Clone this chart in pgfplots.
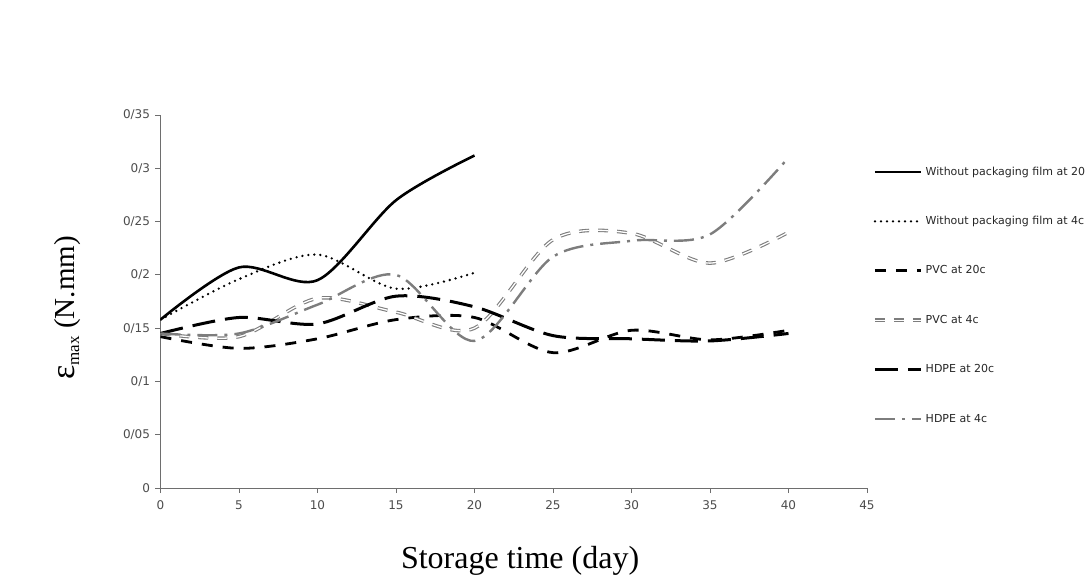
\documentclass[border=0pt]{standalone}
\usepackage{fontspec}
\setmainfont{Liberation Serif}
\newfontfamily\tickfont{DejaVu Sans}
\usepackage{pgfplots}
\usepackage{pgfplotstable}
\pgfplotsset{compat=1.18}

\definecolor{axisgray}{RGB}{110,110,110}
\definecolor{linegray}{RGB}{125,125,125}

% storage time (day) vs maximum strain, one table per treatment
\pgfplotstableread{
day val
0  0.158
5  0.207
10 0.195
15 0.270
20 0.312
}\nowarmA
\pgfplotstableread{
day val
0  0.158
5  0.196
10 0.219
15 0.187
20 0.202
}\nowarmB
\pgfplotstableread{
day val
0  0.142
5  0.131
10 0.140
15 0.158
20 0.160
25 0.127
30 0.148
35 0.139
40 0.148
}\pvcA
\pgfplotstableread{
day val
0  0.145
5  0.142
10 0.178
15 0.165
20 0.150
25 0.233
30 0.239
35 0.211
40 0.240
}\pvcB
\pgfplotstableread{
day val
0  0.145
5  0.160
10 0.154
15 0.180
20 0.170
25 0.143
30 0.140
35 0.138
40 0.145
}\hdpeA
\pgfplotstableread{
day val
0  0.145
5  0.145
10 0.172
15 0.200
20 0.138
25 0.217
30 0.232
35 0.238
40 0.310
}\hdpeB

\begin{document}
\begin{tikzpicture}
\begin{axis}[
  scale only axis,
  width=706.5pt, height=373pt,
  xmin=0, xmax=45, ymin=0, ymax=0.35,
  axis lines=left,
  axis line style={-, draw=axisgray, line width=0.8pt},
  tick align=outside,
  major tick length=5pt,
  tick style={draw=axisgray, line width=0.8pt},
  xtick={0,5,10,15,20,25,30,35,40,45},
  xticklabels={0,5,10,15,20,25,30,35,40,45},
  ytick={0,0.05,0.1,0.15,0.2,0.25,0.3,0.35},
  yticklabels={0,0/05,0/1,0/15,0/2,0/25,0/3,0/35},
  ticklabel style={font=\tickfont\fontsize{12}{13}\selectfont, text=black!70},
  xticklabel style={yshift=-4pt},
  yticklabel style={xshift=-2pt},
  xlabel={Storage time (day)},
  xlabel style={font=\fontsize{32}{34}\selectfont, at={(axis description cs:0.509,-0.217)}, anchor=base},
  ylabel={{\fontsize{34}{34}\selectfont ε}\raisebox{-5pt}{\fontsize{17}{17}\selectfont max} (N.mm)},
  ylabel style={font=\fontsize{29}{30}\selectfont, at={(axis description cs:-0.132,0.483)}, anchor=center},
  legend image code/.code={\draw[#1] (0pt,0pt) -- (46pt,0pt);},
  legend cell align=left,
  legend style={draw=none, fill=none, at={(1.0043,0.516)}, anchor=west,
    font=\tickfont\fontsize{11}{12}\selectfont, text=black!85,
    row sep=38.4pt, column sep=3pt,
    nodes={inner sep=0pt, text height=8.5pt, text depth=2.5pt}},
]
\addplot[black, line width=2.6pt, smooth] table[x=day, y=val] {\nowarmA};
\addlegendentry{Without packaging film at 20c}
\addplot[black, line width=2.6pt, smooth, line cap=round, dash pattern=on 0pt off 6pt] table[x=day, y=val] {\nowarmB};
\addlegendentry{Without packaging film at 4c}
\addplot[black, line width=2.8pt, smooth, dash pattern=on 11pt off 10pt] table[x=day, y=val] {\pvcA};
\addlegendentry{PVC at 20c}
\addplot[linegray, line width=1.1pt, double=white, double distance=1.3pt, smooth, dash pattern=on 10pt off 9pt] table[x=day, y=val] {\pvcB};
\addlegendentry{PVC at 4c}
\addplot[black, line width=3pt, smooth, dash pattern=on 23pt off 10pt] table[x=day, y=val] {\hdpeA};
\addlegendentry{HDPE at 20c}
\addplot[linegray, line width=2.4pt, smooth, dash pattern=on 20pt off 7pt on 3pt off 7pt] table[x=day, y=val] {\hdpeB};
\addlegendentry{HDPE at 4c}
\end{axis}
\pgfresetboundingbox
\useasboundingbox (-160.5pt,-88pt) rectangle (924.5pt,488pt);
\end{tikzpicture}
\end{document}
